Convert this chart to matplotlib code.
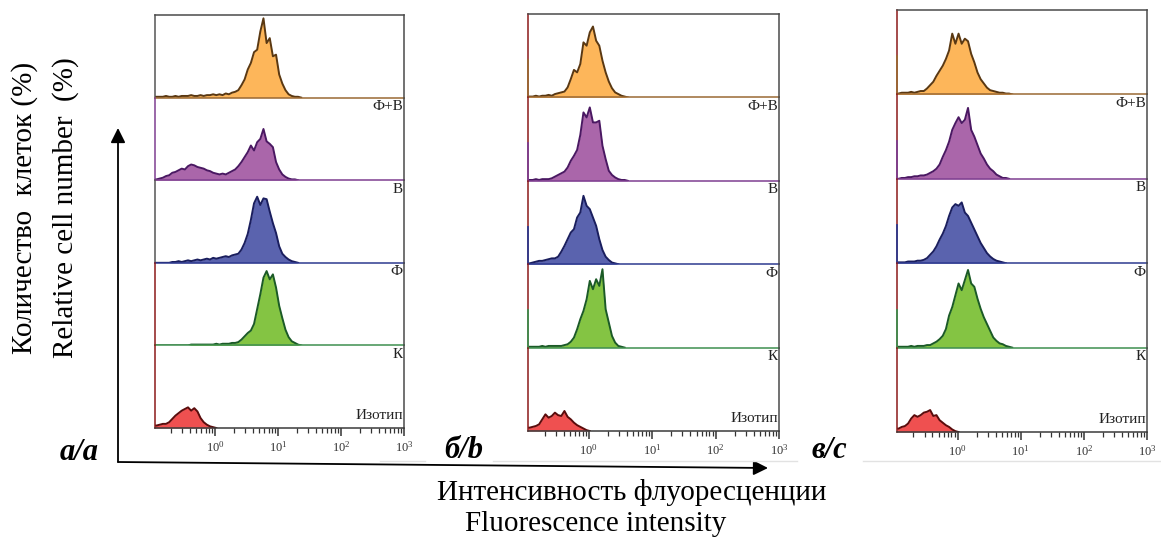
import numpy as np
import matplotlib
matplotlib.use('Agg')
import matplotlib.pyplot as plt
from matplotlib.ticker import LogLocator, LogFormatterMathtext, NullFormatter, NullLocator

plt.rcParams['font.family'] = ['Liberation Serif', 'DejaVu Serif']
plt.rcParams['mathtext.fontset'] = 'stix'

# ---------------- data ----------------
LOG_START = -0.96      # log10 of left edge of first bin
BIN_STEP = 0.05        # bin width in log10 units
LOG_END = 3.0

sample_labels = ['Ф+В', 'В', 'Ф', 'К', 'Изотип']
panel_labels = ['а/a', 'б/b', 'в/c']
tick_values = [1, 10, 100, 1000]
y_label_ru = 'Количество  клеток (%)'
y_label_en = 'Relative cell number  (%)'
x_label_ru = 'Интенсивность флуоресценции'
x_label_en = 'Fluorescence intensity'

# heights in % of strip height, per log bin starting at LOG_START
a_fv = [1, 1, 1, 2, 1, 1, 2, 1, 2, 2, 2, 3, 2, 2, 3, 2, 3, 3, 4, 3,
        4, 3, 5, 4, 6, 7, 9, 15, 22, 34, 42, 55, 58, 80, 96, 66, 72, 50, 52, 28,
        17, 9, 4, 2, 1, 1, 0]
a_v = [1, 2, 3, 5, 6, 9, 10, 12, 14, 13, 17, 19, 18, 16, 15, 14, 12, 11, 9, 8,
       7, 8, 7, 9, 11, 13, 17, 22, 28, 34, 42, 36, 46, 50, 62, 47, 44, 40, 22, 13,
       7, 4, 2, 1, 1, 0]
a_f = [0, 0, 0, 0, 0, 1, 1, 2, 1, 2, 3, 2, 3, 4, 3, 4, 5, 4, 6, 5,
       6, 7, 8, 7, 9, 10, 11, 16, 24, 35, 52, 72, 80, 70, 78, 77, 62, 48, 36, 20,
       11, 7, 4, 2, 1, 0]
a_k = [0, 0, 0, 0, 0, 0, 0, 0, 0, 0, 0, 1, 1, 1, 1, 1, 1, 1, 1, 2,
       1, 2, 2, 2, 3, 3, 4, 7, 11, 15, 18, 26, 44, 62, 82, 90, 80, 86, 70, 48,
       33, 19, 10, 5, 3, 1, 0]
a_iso = [3, 4, 5, 5, 7, 11, 15, 18, 21, 23, 25, 21, 24, 20, 12, 7, 4, 2, 1, 0]

b_fv = [1, 1, 2, 1, 2, 2, 3, 2, 4, 5, 6, 7, 12, 22, 33, 30, 40, 66, 62, 78,
        85, 68, 62, 44, 30, 19, 11, 6, 4, 2, 1, 0]
b_v = [1, 1, 2, 1, 2, 2, 2, 3, 5, 7, 9, 11, 16, 24, 30, 37, 55, 82, 76, 88,
       70, 70, 72, 42, 26, 12, 7, 4, 2, 1, 1, 0]
b_f = [1, 2, 3, 4, 4, 5, 6, 7, 7, 9, 15, 22, 30, 38, 42, 56, 62, 82, 70, 66,
       56, 46, 30, 17, 9, 5, 2, 1, 0]
b_k = [1, 1, 1, 1, 2, 1, 2, 2, 2, 2, 2, 3, 4, 7, 12, 22, 34, 44, 58, 80,
       70, 82, 74, 94, 46, 30, 14, 6, 2, 1, 0]
b_iso = [4, 5, 6, 8, 14, 20, 16, 18, 22, 19, 18, 24, 17, 14, 10, 7, 5, 3, 1, 0]

c_fv = [1, 2, 2, 2, 3, 2, 3, 4, 4, 7, 11, 15, 22, 28, 34, 42, 52, 72, 60, 72,
        60, 66, 63, 48, 38, 26, 18, 13, 8, 5, 4, 3, 2, 2, 1, 1, 0]
c_v = [0, 1, 1, 2, 2, 3, 3, 4, 4, 5, 7, 9, 12, 17, 26, 34, 44, 58, 66, 73,
       66, 70, 84, 58, 50, 40, 30, 24, 17, 12, 9, 5, 3, 1, 1, 0]
c_f = [1, 1, 1, 2, 2, 2, 3, 3, 4, 6, 10, 14, 20, 28, 35, 44, 56, 66, 70, 68,
       72, 60, 56, 48, 40, 32, 24, 18, 12, 8, 5, 3, 2, 1, 0]
c_k = [1, 1, 1, 1, 2, 1, 2, 2, 2, 3, 3, 5, 7, 10, 14, 22, 38, 48, 62, 76,
       68, 80, 92, 76, 72, 58, 46, 36, 28, 20, 12, 8, 5, 4, 2, 1, 0]
c_iso = [4, 6, 7, 10, 16, 20, 18, 20, 23, 24, 26, 19, 20, 14, 11, 8, 6, 3, 1, 0]

panels = [
    [a_fv, a_v, a_f, a_k, a_iso],
    [b_fv, b_v, b_f, b_k, b_iso],
    [c_fv, c_v, c_f, c_k, c_iso],
]

# ---------------- styles ----------------
fill_colors = ['#FDB65A', '#AA66AA', '#5A63AE', '#84C443', '#EF5050']
edge_colors = ['#5A3812', '#4A1862', '#1A1E5E', '#1B5A27', '#5A0C0C']
base_colors = ['#9A6934', '#7E3F91', '#2E3A8F', '#3F8F50', '#3A3A3A']
frame_color = '#4A4A4A'
left_red = '#8B1A1A'

W, H = 1161, 538
# panel frames in image pixels: left, right, top, bottom
panel_boxes = [(155, 404, 15, 428), (528, 779, 14, 431), (897, 1147, 10, 432)]
left_spines = [
    ['#555555', '#7E3F91', '#555555', left_red, left_red],
    [left_red] * 5,
    [left_red] * 5,
]

fig = plt.figure(figsize=(W / 100, H / 100), dpi=100)

for p, (box, hists) in enumerate(zip(panel_boxes, panels)):
    l, r, t, b = box
    sh = (b - t) / 5.0
    for i, vals in enumerate(hists):
        top_px = t + i * sh
        ax = fig.add_axes([l / W, 1 - (top_px + sh) / H, (r - l) / W, sh / H])
        vals = np.asarray(vals, dtype=float)
        centers = 10 ** (LOG_START + BIN_STEP * (np.arange(len(vals)) + 0.5))
        xs = np.concatenate([[10 ** LOG_START], centers])
        ys = np.concatenate([[vals[0]], vals])
        ax.fill_between(xs, 0, ys, color=fill_colors[i], lw=0, zorder=1)
        ax.plot(xs, ys, color=edge_colors[i], lw=1.4, zorder=2)
        ax.set_xscale('log')
        ax.set_xlim(10 ** LOG_START, 10 ** LOG_END)
        ax.set_ylim(0, 100)
        ax.set_yticks([])
        ax.patch.set_alpha(0)
        for s in ['top', 'right', 'left', 'bottom']:
            ax.spines[s].set_linewidth(1.1)
        ax.spines['top'].set_visible(i == 0)
        ax.spines['top'].set_color(frame_color)
        ax.spines['right'].set_color(frame_color)
        ax.spines['bottom'].set_color(base_colors[i])
        ax.spines['left'].set_color(left_spines[p][i])
        if p > 0 and i < 4:
            ax.axvline(10 ** LOG_START, ymin=0, ymax=0.45, color=base_colors[i],
                       lw=1.3, clip_on=False, zorder=3)
        if i < 4:
            ax.xaxis.set_major_locator(NullLocator())
            ax.xaxis.set_minor_locator(NullLocator())
            ax.text(0.995, -0.03, sample_labels[i], transform=ax.transAxes,
                    ha='right', va='top', fontsize=11, color='#222222')
        else:
            ax.set_xticks(tick_values)
            ax.xaxis.set_major_formatter(LogFormatterMathtext())
            ax.xaxis.set_minor_locator(LogLocator(base=10, subs=np.arange(2, 10)))
            ax.xaxis.set_minor_formatter(NullFormatter())
            ax.tick_params(axis='x', which='major', direction='out', length=6,
                           width=1.1, color='#333333', labelsize=9, pad=3,
                           labelcolor='#333333')
            ax.tick_params(axis='x', which='minor', direction='out', length=3.5,
                           width=0.9, color='#333333')
            ax.text(0.995, 0.07, sample_labels[i], transform=ax.transAxes,
                    ha='right', va='bottom', fontsize=11, color='#222222')

# faint separator lines under panels
for x0, x1 in [(380, 425), (493, 797), (863, 1161)]:
    fig.add_artist(plt.Line2D([x0 / W, x1 / W], [1 - 461 / H, 1 - 461 / H],
                              color='#E2E2E2', lw=1.0, transform=fig.transFigure))

# arrows
fig.add_artist(matplotlib.patches.FancyArrowPatch(
    (118 / W, 1 - 462 / H), (118 / W, 1 - 128 / H), transform=fig.transFigure,
    arrowstyle='-|>', mutation_scale=22, lw=1.3, color='black',
    shrinkA=0, shrinkB=0))
fig.add_artist(matplotlib.patches.FancyArrowPatch(
    (118 / W, 1 - 462 / H), (768 / W, 1 - 468 / H), transform=fig.transFigure,
    arrowstyle='-|>', mutation_scale=22, lw=1.3, color='black',
    shrinkA=0, shrinkB=0))

# axis titles
fig.text(25 / W, 1 - 208 / H, y_label_ru, rotation=90, ha='center', va='center',
         fontsize=21, color='black')
fig.text(66 / W, 1 - 208 / H, y_label_en, rotation=90, ha='center', va='center',
         fontsize=21, color='black')
fig.text(632 / W, 1 - 492 / H, x_label_ru, ha='center', va='center',
         fontsize=21, color='black')
fig.text(596 / W, 1 - 524 / H, x_label_en, ha='center', va='center',
         fontsize=21, color='black')

# panel letters
for (x, y), lab in zip([(79, 452), (464, 451), (829, 451)], panel_labels):
    fig.text(x / W, 1 - y / H, lab, ha='center', va='center', fontsize=22,
             fontweight='bold', fontstyle='italic', color='black')

fig.savefig('out.png', dpi=100)
